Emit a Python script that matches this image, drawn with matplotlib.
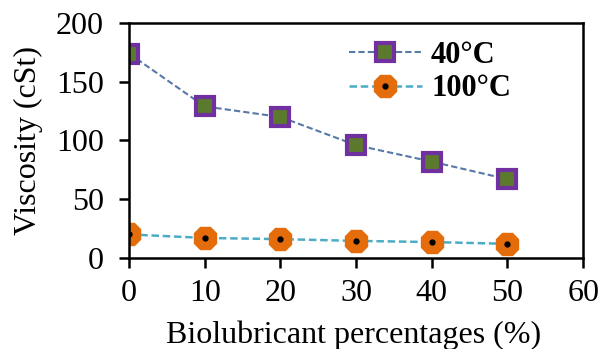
import matplotlib.pyplot as plt

plt.rcParams['font.family'] = ['Liberation Serif', 'DejaVu Serif']

pct = [0, 10, 20, 30, 40, 50]
visc_40 = [174, 129, 120, 96, 82, 67]
visc_100 = [20, 17, 16, 14.5, 13.5, 12]

fig = plt.figure(figsize=(6, 3.49), dpi=100)
ax = fig.add_axes([0.215, 0.261, 0.757, 0.673])

l40, = ax.plot(pct, visc_40, '--', color='#5679a8', lw=1.5, marker='s', ms=12.5,
               mfc='#5c7a2e', mec='#7030a0', mew=3, dashes=(3, 1.5))
l100, = ax.plot(pct, visc_100, '--', color='#4bacc6', lw=1.8, marker='8', ms=17,
                mfc='#e46c0a', mec='#e46c0a', dashes=(3, 1.5))
dot, = ax.plot(pct, visc_100, 'o', color='black', ms=3.5, ls='none')

ax.set_xlim(0, 60)
ax.set_ylim(0, 200)
ax.set_xticks(range(0, 61, 10))
ax.set_yticks(range(0, 201, 50))
ax.tick_params(direction='out', length=7, width=1.8, labelsize=23)
ax.tick_params(axis='y', pad=11)
ax.tick_params(axis='x', pad=8)
for s in ax.spines.values():
    s.set_linewidth(1.8)
ax.set_xlabel('Biolubricant percentages (%)', fontsize=23)
ax.set_ylabel('Viscosity (cSt)', fontsize=23)
ax.yaxis.set_label_coords(-0.19, 0.5)
ax.xaxis.set_label_coords(0.495, -0.265)

ax.legend([l40, (l100, dot)], ['40°C', '100°C'], frameon=False,
          prop={'weight': 'bold', 'size': 22}, loc='upper left',
          bbox_to_anchor=(0.47, 0.95), borderaxespad=0, borderpad=0.2,
          handlelength=2.4, labelspacing=0.15, handletextpad=0.3)

fig.savefig('out.png')
